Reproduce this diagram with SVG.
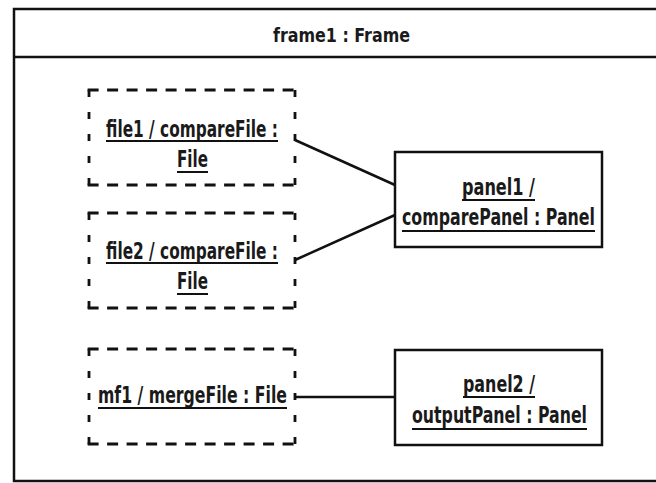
<svg xmlns="http://www.w3.org/2000/svg" xmlns:xlink="http://www.w3.org/1999/xlink" width="656" height="483" viewBox="0 0 656 483">
<style>
.frame{fill:#fff;stroke:#111;stroke-width:2.5}
.solid{fill:#fff;stroke:#111;stroke-width:2.5}
.dh{stroke:#111;stroke-width:2.8;stroke-dasharray:11 8.5;fill:none}
.dv{stroke:#111;stroke-width:2.8;stroke-dasharray:7 15;fill:none}
.conn{stroke:#111;stroke-width:2.5;fill:none}
.ul{stroke:#111;stroke-width:2}
text{font-family:"Liberation Sans Narrow","DejaVu Sans Condensed","Liberation Sans",sans-serif;font-weight:bold;fill:#1a1a1a;text-anchor:middle}
.lbl{font-size:23px}
.title{font-size:19px}
</style>
<defs>
<g id="dashbox">
<line class="dh" x1="-1.4" y1="0" x2="207.4" y2="0"/>
<line class="dh" x1="-1.4" y1="95" x2="207.4" y2="95"/>
<line class="dv" x1="0" y1="0" x2="0" y2="95"/>
<line class="dv" x1="206" y1="0" x2="206" y2="95"/>
</g>
</defs>
<rect width="656" height="483" fill="#fff"/>
<g id="frame1">
<rect class="frame" x="14" y="9" width="700" height="472"/>
<line class="frame" x1="14" y1="57" x2="660" y2="57"/>
<text class="title" x="341.5" y="42" textLength="137" lengthAdjust="spacingAndGlyphs">frame1 : Frame</text>
</g>
<g id="connectors">
<line class="conn" x1="295" y1="140" x2="395" y2="185"/>
<line class="conn" x1="295" y1="260" x2="395" y2="215"/>
<line class="conn" x1="296" y1="397" x2="395" y2="397"/>
</g>
<g id="file1">
<use xlink:href="#dashbox" transform="translate(89,90)"/>
<text class="lbl" x="192" y="137" textLength="172" lengthAdjust="spacingAndGlyphs">file1 / compareFile :</text>
<line class="ul" x1="106" y1="141" x2="278" y2="141"/>
<text class="lbl" x="192.5" y="167" textLength="31" lengthAdjust="spacingAndGlyphs">File</text>
<line class="ul" x1="177" y1="172" x2="208" y2="172"/>
</g>
<g id="file2">
<use xlink:href="#dashbox" transform="translate(89,213)"/>
<text class="lbl" x="192" y="259" textLength="172" lengthAdjust="spacingAndGlyphs">file2 / compareFile :</text>
<line class="ul" x1="106" y1="263" x2="278" y2="263"/>
<text class="lbl" x="192.5" y="289" textLength="31" lengthAdjust="spacingAndGlyphs">File</text>
<line class="ul" x1="177" y1="294" x2="208" y2="294"/>
</g>
<g id="mf1">
<use xlink:href="#dashbox" transform="translate(89,349)"/>
<text class="lbl" x="192.5" y="403" textLength="189" lengthAdjust="spacingAndGlyphs">mf1 / mergeFile : File</text>
<line class="ul" x1="98" y1="408" x2="287" y2="408"/>
</g>
<g id="panel1">
<rect class="solid" x="395" y="152" width="207" height="95"/>
<text class="lbl" x="498.5" y="195" textLength="73" lengthAdjust="spacingAndGlyphs">panel1 /</text>
<line class="ul" x1="462" y1="200" x2="535" y2="200"/>
<text class="lbl" x="498.5" y="225" textLength="193" lengthAdjust="spacingAndGlyphs">comparePanel : Panel</text>
<line class="ul" x1="402" y1="231" x2="595" y2="231"/>
</g>
<g id="panel2">
<rect class="solid" x="395" y="350" width="207" height="95"/>
<text class="lbl" x="499" y="392" textLength="72" lengthAdjust="spacingAndGlyphs">panel2 /</text>
<line class="ul" x1="463" y1="397" x2="535" y2="397"/>
<text class="lbl" x="499.5" y="423" textLength="175" lengthAdjust="spacingAndGlyphs">outputPanel : Panel</text>
<line class="ul" x1="412" y1="429" x2="587" y2="429"/>
</g>
</svg>
